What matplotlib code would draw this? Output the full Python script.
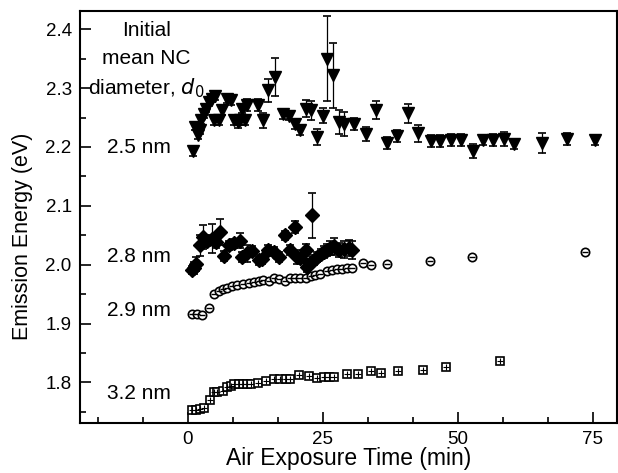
import matplotlib
matplotlib.use("Agg")
import matplotlib.pyplot as plt
from matplotlib.ticker import MultipleLocator

plt.rcParams['font.family'] = ['Liberation Sans', 'DejaVu Sans']

# 2.5 nm (down triangles)
t25 = [0.9, 1.4, 1.8, 2.2, 2.45, 2.9, 3.4, 3.85, 4.5, 4.8, 5.1, 5.7, 6.3, 7.25, 7.9, 8.5,
       9.2, 9.7, 10.0, 10.6, 10.9, 12.9, 13.9, 14.9, 16.1, 17.7, 18.7, 19.9, 20.8, 21.8,
       22.8, 23.9, 25.0, 25.8, 26.9, 27.9, 28.9, 30.8, 32.9, 34.8, 36.8, 38.8, 40.7, 42.6,
       45.1, 46.7, 48.8, 50.6, 52.8, 54.6, 56.5, 58.6, 60.5, 65.6, 70.3, 75.4]
e25 = [2.193, 2.234, 2.220, 2.228, 2.245, 2.256, 2.265, 2.276, 2.282, 2.245, 2.286, 2.245,
       2.262, 2.282, 2.279, 2.245, 2.242, 2.245, 2.265, 2.245, 2.271, 2.271, 2.245, 2.296,
       2.319, 2.256, 2.253, 2.239, 2.228, 2.265, 2.262, 2.217, 2.253, 2.350, 2.322, 2.242,
       2.239, 2.239, 2.222, 2.263, 2.207, 2.218, 2.257, 2.223, 2.210, 2.210, 2.212, 2.212,
       2.193, 2.211, 2.212, 2.214, 2.205, 2.206, 2.214, 2.211]
s25 = [0.008, 0.006, 0.006, 0.006, 0.006, 0.006, 0.006, 0.006, 0.006, 0.008, 0.006, 0.008,
       0.008, 0.008, 0.008, 0.008, 0.010, 0.008, 0.008, 0.008, 0.010, 0.010, 0.012, 0.020,
       0.032, 0.008, 0.008, 0.008, 0.008, 0.014, 0.016, 0.013, 0.013, 0.072, 0.055, 0.020,
       0.020, 0.010, 0.012, 0.015, 0.010, 0.010, 0.016, 0.015, 0.010, 0.010, 0.010, 0.010,
       0.012, 0.008, 0.010, 0.012, 0.008, 0.017, 0.010, 0.008]

# 2.8 nm (diamonds)
t28 = [0.77, 1.2, 1.57, 2.2, 2.8, 3.5, 4.5, 5.2, 6.0, 6.6, 7.6, 8.5, 9.7, 10.0, 10.9, 11.9,
       13.1, 13.7, 14.9, 15.9, 16.8, 17.9, 18.9, 19.9, 20.3, 20.8, 21.8, 22.1, 22.7, 22.9,
       23.4, 24.0, 24.6, 25.2, 25.8, 26.4, 27.1, 27.9, 28.9, 29.8, 30.4]
e28 = [1.991, 1.995, 2.001, 2.033, 2.047, 2.041, 2.044, 2.038, 2.055, 2.015, 2.033, 2.036,
       2.041, 2.013, 2.019, 2.023, 2.008, 2.009, 2.025, 2.022, 2.013, 2.050, 2.025, 2.064,
       2.013, 2.012, 2.025, 1.996, 2.002, 2.084, 2.008, 2.013, 2.018, 2.022, 2.025, 2.028,
       2.031, 2.025, 2.026, 2.028, 2.025]
s28 = [0.006, 0.010, 0.012, 0.018, 0.020, 0.010, 0.025, 0.010, 0.022, 0.008, 0.008, 0.008,
       0.012, 0.008, 0.015, 0.008, 0.008, 0.008, 0.008, 0.008, 0.008, 0.008, 0.008, 0.010,
       0.012, 0.008, 0.010, 0.008, 0.008, 0.038, 0.008, 0.008, 0.008, 0.010, 0.010, 0.012,
       0.014, 0.012, 0.014, 0.014, 0.015]

# 2.9 nm (circles)
t29 = [0.77, 1.7, 2.6, 3.86, 4.78, 5.7, 6.5, 7.25, 8.2, 9.1, 10.2, 11.3, 12.2, 13.1, 14.0,
       15.0, 15.9, 16.8, 17.9, 18.9, 19.9, 20.8, 21.8, 22.8, 23.6, 24.5, 25.8, 26.7, 27.6,
       28.6, 29.5, 30.4, 32.4, 33.9, 36.9, 44.9, 52.7, 73.6]
e29 = [1.917, 1.917, 1.915, 1.926, 1.951, 1.955, 1.958, 1.961, 1.963, 1.966, 1.968, 1.969,
       1.970, 1.972, 1.974, 1.973, 1.977, 1.976, 1.973, 1.977, 1.978, 1.977, 1.978, 1.981,
       1.983, 1.984, 1.990, 1.991, 1.992, 1.993, 1.994, 1.995, 2.002, 1.999, 2.001, 2.007,
       2.013, 2.021]

# 3.2 nm (squares)
t32 = [0.77, 1.57, 2.3, 3.05, 4.0, 4.78, 5.4, 6.5, 7.25, 8.0, 8.6, 9.4, 10.2, 11.0, 11.7,
       12.9, 14.5, 16.0, 17.1, 18.2, 19.0, 20.5, 22.4, 23.9, 25.3, 26.1, 27.0, 29.5, 31.5,
       33.9, 35.8, 38.9, 43.5, 47.9, 57.9]
e32 = [1.753, 1.753, 1.754, 1.756, 1.770, 1.783, 1.784, 1.786, 1.792, 1.794, 1.797, 1.797,
       1.797, 1.797, 1.797, 1.799, 1.803, 1.806, 1.806, 1.806, 1.806, 1.812, 1.811, 1.807,
       1.810, 1.810, 1.810, 1.815, 1.815, 1.819, 1.816, 1.820, 1.821, 1.826, 1.836]

size_labels = ["2.5 nm", "2.8 nm", "2.9 nm", "3.2 nm"]
size_label_y = [2.189, 2.004, 1.913, 1.771]
title_lines = ["Initial", "mean NC", "diameter, $d_0$"]
title_y = [2.389, 2.341, 2.290]

fig = plt.figure(figsize=(6.18, 4.73), dpi=100)
ax = fig.add_axes([80/618, 50/473, 537/618, 412/473])

ax.errorbar(t25, e25, yerr=s25, fmt="v", color="black", ms=8, elinewidth=0.9,
            capsize=3, capthick=1.2)
ax.errorbar(t28, e28, yerr=s28, fmt="D", color="black", ms=7.5, elinewidth=0.9,
            capsize=3, capthick=1.2)
ax.plot(t29, e29, "o", ms=6, mfc="white", mec="black", mew=1.2)
ax.plot(t29, e29, "_", ms=5, color="black", mew=1.0)
ax.plot(t32, e32, "s", ms=5.8, mfc="white", mec="black", mew=1.2)
ax.plot(t32, e32, "+", ms=5, color="black", mew=0.8)

for lab, y in zip(size_labels, size_label_y):
    ax.text(-3.1, y, lab, ha="right", va="baseline", fontsize=15)
for lab, y in zip(title_lines, title_y):
    ax.text(-7.7, y, lab, ha="center", va="baseline", fontsize=15)

ax.set_xlim(-20, 79.5)
ax.set_ylim(1.731, 2.431)
ax.xaxis.set_minor_locator(MultipleLocator(25/3))
ax.yaxis.set_major_locator(MultipleLocator(0.1))
ax.yaxis.set_minor_locator(MultipleLocator(0.05))
ax.tick_params(which="both", direction="in", top=False, right=False, labelsize=13.5, width=1.2)
ax.tick_params(which="major", length=8, pad=6)
ax.tick_params(which="minor", length=4)
ax.set_xticks([0, 25, 50, 75])
for sp in ax.spines.values():
    sp.set_linewidth(1.5)

ax.set_xlabel("Air Exposure Time (min)", fontsize=16.5, labelpad=-1)
ax.set_ylabel("Emission Energy (eV)", fontsize=15.5)
ax.yaxis.set_label_coords(-0.0875, 0.454)

fig.savefig("out.png", dpi=100)
